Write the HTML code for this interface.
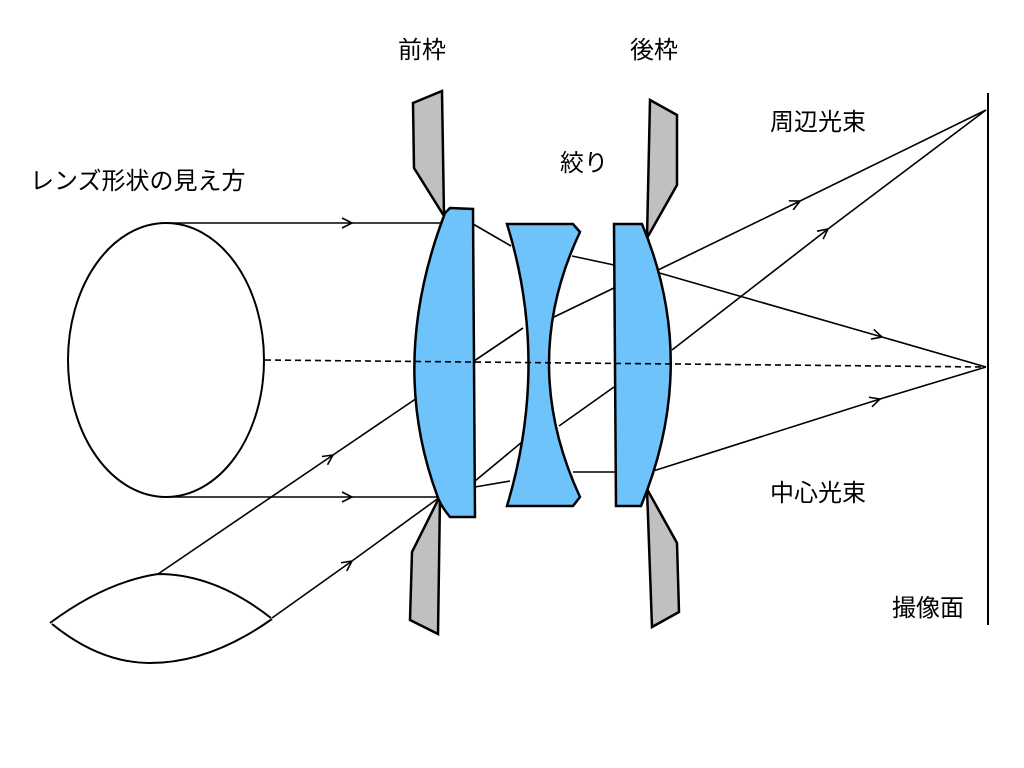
<!DOCTYPE html>
<html><head><meta charset="utf-8"><style>
html,body{margin:0;padding:0;background:#fff;}
svg{display:block;}
text{font-family:"Liberation Sans","Noto Sans CJK JP",sans-serif;font-size:24px;fill:#000;}
</style></head><body>
<svg width="1024" height="768" viewBox="0 0 1024 768" xmlns="http://www.w3.org/2000/svg">
<defs>
<marker id="a" markerWidth="14" markerHeight="12" refX="11" refY="6" orient="auto" markerUnits="userSpaceOnUse">
<path d="M1,1 L11,6 L1,11" fill="none" stroke="#000" stroke-width="1.6"/>
</marker>
</defs>
<g stroke="#000" stroke-width="1.6" fill="none">
<ellipse cx="166" cy="360" rx="98" ry="137" stroke-width="2"/>
<line x1="166" y1="223" x2="352" y2="223" marker-end="url(#a)"/>
<line x1="352" y1="223" x2="443" y2="223"/>
<line x1="166" y1="497" x2="352" y2="497" marker-end="url(#a)"/>
<line x1="352" y1="497" x2="440" y2="497"/>
<path d="M50,623 Q105,582 158,574 Q215,574 271,618" stroke-width="2"/>
<path d="M52,624 Q100,663 150,663 Q210,663 272,619" stroke-width="2"/>
<line x1="158" y1="574" x2="333" y2="455" marker-end="url(#a)"/>
<line x1="333" y1="455" x2="420" y2="396"/>
<line x1="272" y1="618" x2="352" y2="561" marker-end="url(#a)"/>
<line x1="352" y1="561" x2="440" y2="497"/>
<line x1="473" y1="224" x2="511" y2="246"/>
<line x1="572" y1="256" x2="614" y2="265"/>
<line x1="474" y1="361" x2="523" y2="328"/>
<line x1="552" y1="318" x2="614" y2="288"/>
<line x1="559" y1="426" x2="614" y2="387"/>
<line x1="475" y1="481" x2="522" y2="442"/>
<line x1="475" y1="487" x2="510" y2="481"/>
<line x1="573" y1="472" x2="615" y2="472"/>
<line x1="656" y1="271" x2="800" y2="201" marker-end="url(#a)"/>
<line x1="800" y1="201" x2="986" y2="110"/>
<line x1="672" y1="350" x2="828" y2="229" marker-end="url(#a)"/>
<line x1="828" y1="229" x2="986" y2="110"/>
<line x1="656" y1="272" x2="882" y2="337" marker-end="url(#a)"/>
<line x1="882" y1="337" x2="986" y2="367"/>
<line x1="650" y1="472" x2="880" y2="399" marker-end="url(#a)"/>
<line x1="880" y1="399" x2="986" y2="367"/>
<line x1="988" y1="93" x2="988" y2="625" stroke-width="2"/>
</g>
<g stroke="#000" stroke-width="2.5" stroke-linejoin="miter">
<polygon points="413,103 442,91 444,216 414,168" fill="#c0c0c0"/>
<polygon points="440,496 438,634 410,620 412,552" fill="#c0c0c0"/>
<polygon points="650,100 677,115 677,185 647,238" fill="#c0c0c0"/>
<polygon points="647,489 677,543 679,612 652,627" fill="#c0c0c0"/>
<path d="M450,208 L473,209 L475,517 L450,517 Q440,505 437,495 Q388,362 445,213 Z" fill="#6ec3fa"/>
<path d="M507,224 L573,224 L580,232 Q518,363 580,497 L573,506 L507,506 Q550,363 507,224 Z" fill="#6ec3fa"/>
<path d="M614,224 L642,224 Q700,363 641,506 L616,506 Z" fill="#6ec3fa"/>
</g>
<g stroke="#000" stroke-width="1.6" fill="none">
<line x1="265" y1="360" x2="985" y2="367" stroke-dasharray="6,4"/>
<line x1="474" y1="361" x2="523" y2="328"/>
</g>
<text x="398" y="58">前枠</text>
<text x="630" y="58">後枠</text>
<text x="560" y="171">絞り</text>
<text x="770" y="130">周辺光束</text>
<text x="30" y="189">レンズ形状の見え方</text>
<text x="770" y="501">中心光束</text>
<text x="892" y="616">撮像面</text>
</svg>
</body></html>
